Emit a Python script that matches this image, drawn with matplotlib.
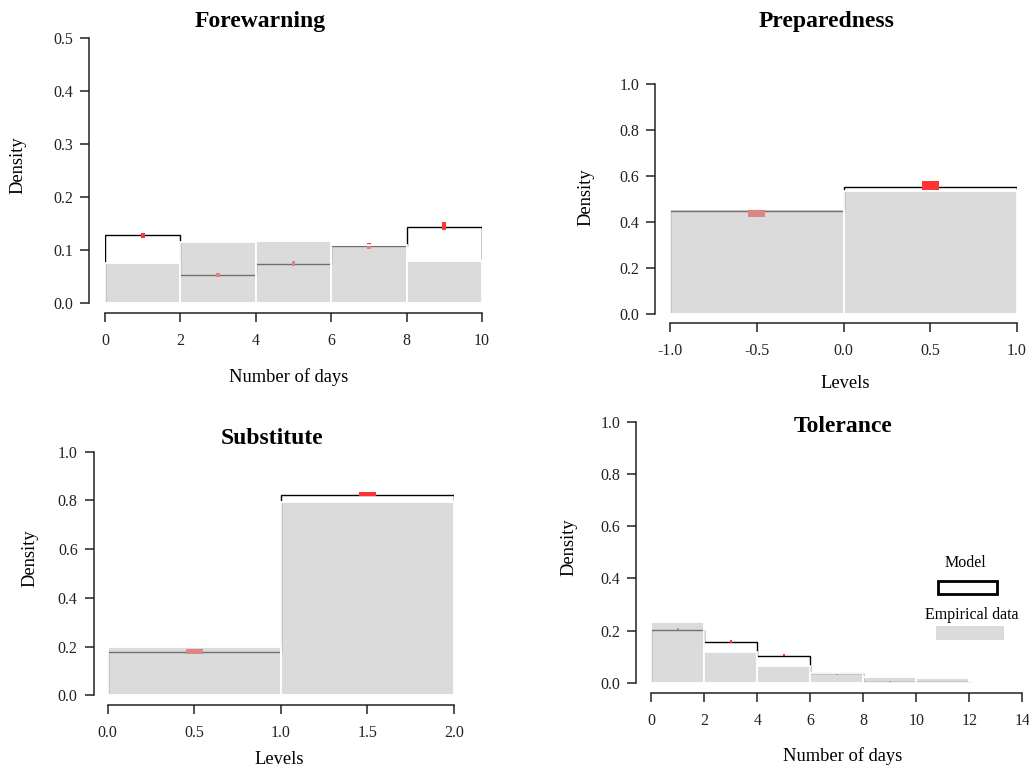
import numpy as np
import matplotlib
matplotlib.use("Agg")
import matplotlib.pyplot as plt
from matplotlib.patches import Rectangle

plt.rcParams['font.family'] = ['Liberation Serif', 'DejaVu Serif']

# Forewarning
fw_edges = [0, 2, 4, 6, 8, 10]
fw_empirical = [0.075, 0.115, 0.117, 0.110, 0.079]
fw_model = [0.128, 0.052, 0.074, 0.107, 0.144]
fw_low = [0.123, 0.050, 0.069, 0.101, 0.138]
fw_high = [0.133, 0.056, 0.079, 0.114, 0.152]

# Preparedness
pr_edges = [-1, 0, 1]
pr_empirical = [0.457, 0.537]
pr_model = [0.449, 0.551]
pr_low = [0.424, 0.541]
pr_high = [0.456, 0.579]

# Substitute
su_edges = [0, 1, 2]
su_empirical = [0.200, 0.795]
su_model = [0.176, 0.822]
su_low = [0.168, 0.817]
su_high = [0.189, 0.834]

# Tolerance
to_edges = [0, 2, 4, 6, 8, 10, 12]
to_empirical = [0.234, 0.117, 0.065, 0.038, 0.022, 0.017]
to_model = [0.203, 0.156, 0.104, 0.037, 0.004, 0.002]
to_low = [0.202, 0.153, 0.101, 0.031, 0.003, 0.001]
to_high = [0.211, 0.162, 0.110, 0.036, 0.008, 0.004]

W, H = 1029, 769
fig = plt.figure(figsize=(W / 100, H / 100), dpi=100)

GREY = (0.76, 0.76, 0.76, 0.58)
RED = '#ff3535'


def px_axes(x0, x1, ytop, ybot):
    return fig.add_axes([x0 / W, 1 - ybot / H, (x1 - x0) / W, (ybot - ytop) / H])


def ftext(x, y, s, **kw):
    fig.text(x / W, 1 - y / H, s, ha='center', va='center', **kw)


def panel(ax, edges, emp, model, lo, hi, mark_w, xlim, xticks, xfmt, ylim, yticks,
          off_left, off_bottom):
    edges = np.array(edges, dtype=float)
    centers = (edges[:-1] + edges[1:]) / 2
    widths = np.diff(edges)
    # model outline and interval marks, under the translucent empirical bars
    ax.stairs(model, edges, color='black', lw=1.0, zorder=1)
    ax.bar(centers, np.array(hi) - np.array(lo), bottom=lo, width=widths * mark_w,
           color=RED, lw=0, zorder=1.5)
    ax.bar(centers, emp, width=widths, color=GREY, edgecolor='white', lw=1.3, zorder=2)

    ax.set_xlim(*xlim)
    ax.set_ylim(*ylim)
    ax.set_xticks(xticks)
    ax.set_xticklabels([xfmt % v for v in xticks])
    ax.set_yticks(yticks)
    ax.set_yticklabels(['%.1f' % v for v in yticks])
    for s in ['top', 'right']:
        ax.spines[s].set_visible(False)
    ax.spines['left'].set_position(('outward', off_left * 0.72))
    ax.spines['bottom'].set_position(('outward', off_bottom * 0.72))
    ax.spines['left'].set_bounds(yticks[0], yticks[-1])
    ax.spines['bottom'].set_bounds(xticks[0], xticks[-1])
    for s in ['left', 'bottom']:
        ax.spines[s].set_linewidth(1.1)
        ax.spines[s].set_color('#222222')
    ax.tick_params(direction='out', length=6.5, width=1.1, color='#222222',
                   labelsize=11.5, labelcolor='#222222', pad=5)
    ax.tick_params(axis='x', pad=8)
    ax.patch.set_alpha(0)


# Forewarning
ax1 = px_axes(105, 482, 38, 303)
panel(ax1, fw_edges, fw_empirical, fw_model, fw_low, fw_high, 0.05,
      (0, 10), [0, 2, 4, 6, 8, 10], '%d', (0, 0.5), [0, 0.1, 0.2, 0.3, 0.4, 0.5], 16, 10)
ftext(260, 21, 'Forewarning', fontsize=17, fontweight='bold')
ftext(289, 377, 'Number of days', fontsize=13.3)
ftext(18, 165, 'Density', fontsize=13.3, rotation=90)

# Preparedness
ax2 = px_axes(670, 1017, 84, 314.3)
panel(ax2, pr_edges, pr_empirical, pr_model, pr_low, pr_high, 0.1,
      (-1, 1), [-1.0, -0.5, 0.0, 0.5, 1.0], '%.1f', (0, 1), [0, 0.2, 0.4, 0.6, 0.8, 1.0], 15, 9)
ftext(827, 22, 'Preparedness', fontsize=17, fontweight='bold')
ftext(845, 383, 'Levels', fontsize=13.3)
ftext(586, 197, 'Density', fontsize=13.3, rotation=90)

# Substitute
ax3 = px_axes(107.7, 454, 451.7, 695.3)
panel(ax3, su_edges, su_empirical, su_model, su_low, su_high, 0.1,
      (0, 2), [0.0, 0.5, 1.0, 1.5, 2.0], '%.1f', (0, 1), [0, 0.2, 0.4, 0.6, 0.8, 1.0], 14, 9.7)
ftext(272, 438, 'Substitute', fontsize=17, fontweight='bold')
ftext(279, 760, 'Levels', fontsize=13.3)
ftext(30, 558, 'Density', fontsize=13.3, rotation=90)

# Tolerance
ax4 = px_axes(651.3, 1022.3, 422, 682.7)
panel(ax4, to_edges, to_empirical, to_model, to_low, to_high, 0.04,
      (0, 14), [0, 2, 4, 6, 8, 10, 12, 14], '%d', (0, 1), [0, 0.2, 0.4, 0.6, 0.8, 1.0], 15, 10.6)
ftext(843, 427, 'Tolerance', fontsize=17, fontweight='bold')
ftext(843, 756, 'Number of days', fontsize=13.3)
ftext(569, 547, 'Density', fontsize=13.3, rotation=90)

# legend
ax4.add_patch(Rectangle((10.83, 0.341), 2.23, 0.049, fill=False, ec='black', lw=2,
                        zorder=3, clip_on=False))
ax4.add_patch(Rectangle((10.74, 0.165), 2.57, 0.0525, fc=GREY, lw=0, zorder=3,
                        clip_on=False))
ax4.text(11.84, 0.46, 'Model', ha='center', va='center', fontsize=11.5)
ax4.text(12.11, 0.26, 'Empirical data', ha='center', va='center', fontsize=11.5)

fig.savefig('out.png', dpi=100)
